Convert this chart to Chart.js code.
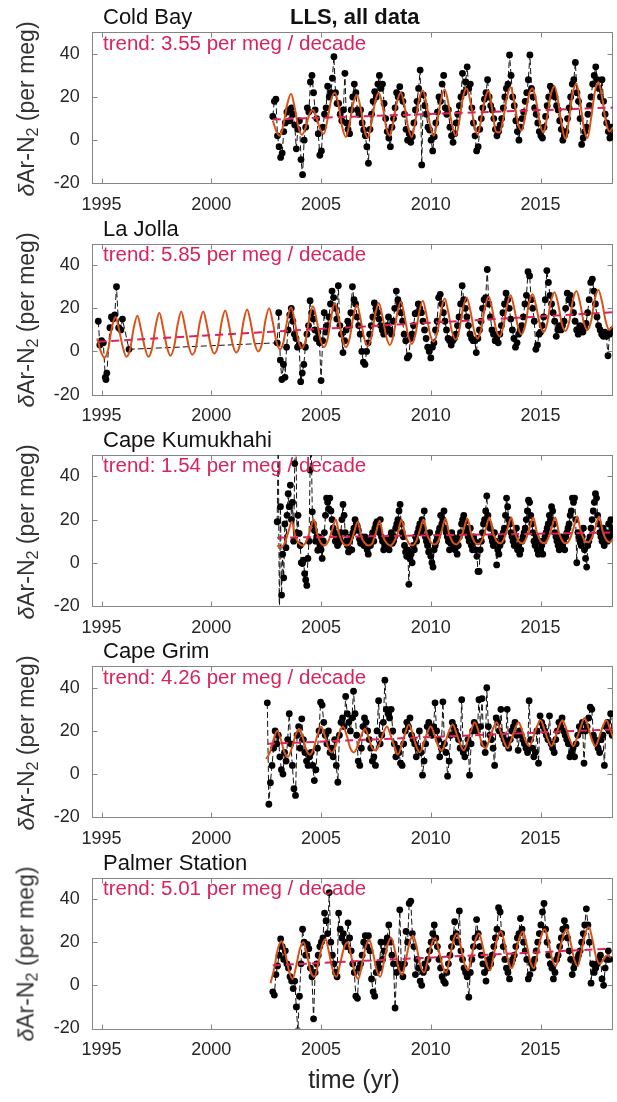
<!DOCTYPE html>
<html lang="en">
<head>
<meta charset="UTF-8">
<title>LLS, all data</title>
<script src="https://cdn.jsdelivr.net/npm/chart.js"></script>
<style>
  body { margin: 0; background: #fff; }
  #wrap { position: relative; width: 617px; height: 1102px; overflow: hidden; font-family: "Liberation Sans", Arial, sans-serif; }
  #wrap canvas { position: absolute; left: 0; top: 0; }
  .lbl { position: absolute; white-space: nowrap; line-height: 1; }
  .ylab { position: absolute; white-space: nowrap; line-height: 1; color: #333; font-size: 23px; transform: translate(-50%, -50%) rotate(-90deg); }
  .ylab sub { font-size: 70%; vertical-align: -0.25em; line-height: 0; }
</style>
</head>
<body>
<div id="wrap"></div>
<script>
const stations = ['Cold Bay', 'La Jolla', 'Cape Kumukhahi', 'Cape Grim', 'Palmer Station'];
const trendRates = ['3.55', '5.85', '1.54', '4.26', '5.01'];
const xTicks = [1995, 2000, 2005, 2010, 2015];
const yTicks = [-20, 0, 20, 40];

// Cold Bay
const coldBayObsStart = 2002.8;
const coldBayObs = [
  11, 18, 19, 2, -3, -8, -6, 4, 8, 13, 14, 9, 15, 12,
  7, -4, 5, 9, -9, -16, 0, 6, 15, 13, 27, 30, 22, 14,
  10, 3, -7, -5, 6, 12, 15, 25, 20, 22, 28.7, 38.7, 22, 17,
  17, 12, 9, 14, 31, 8, 5, 3, 14, 20, 26, 22, 14, 12,
  14, 8, 4.7, 2, -3, -10.7, 5, 12, 18, 22.5, 20, 26, 30, 24,
  26, 17, 10, 4, 1, -3, 6, 10, 15, 22, 20, 24.8, 21, 18,
  12, 5, 0, 3, -1, 1.6, 8, 14, 18, 24, 32.5, -11.5, 21, 16,
  12, 6, 4.7, 0, -5, 1.6, 8, 13, 20, 18, 26, 30, 15, 12,
  14, 6, 2, -1, 3, 8, 12, 16, 20, 31, 22, 27, 34, 24,
  26, 15, 8, 2, -5, -3, 5, 10, 15, 19, 22, 28, 20, 16,
  14, 10, 5, 2, 4, 7, 10, 15, 20, 24, 26, 39.5, 30, 20,
  16, 9, 4, 0, 6, 10, 13, 18, 22, 28, 39.5, 24, 20, 15,
  12, 8, 4, 2, 1, 6, 11, 16, 20, 25, 24, 22, 20, 16,
  14, 9, 5, 0, 2, 4, 10, 15, 20, 26, 28, 36, 22, 18,
  10, -2, 1, 4, 6, 12, 16, 20, 26, 30, 34, 28, 24, 20,
  28, 18, 12, 8, 4, 1, 6, 2
];
const coldBayFitStart = 2002.8;
const coldBayFit = [
  9, 4,
  2, 8, 17, 21.5, 15, 6,
  2.5, 6, 12, 14, 10, 5,
  3, 10, 19, 22, 16, 6,
  1.5, 8, 17, 21, 15, 5,
  1, 8, 18, 22, 16, 6,
  2, 9, 18, 22, 16, 6,
  1.5, 9, 19, 23, 17, 7,
  2, 9, 19, 23.5, 17, 7,
  2, 9, 20, 24, 18, 8,
  2.5, 10, 19, 23, 14, 4,
  3.5, 10, 20, 24.5, 18, 8,
  4.5, 11, 21, 24, 18, 8,
  3.5, 11, 21, 25, 18, 7,
  0.5, 10, 22, 26, 18, 6,
  1, 10, 22, 27, 20, 9,
  4, 6
];
const coldBayTrendYears = [2002.8, 2018.3];
const coldBayTrendVals = [9.6, 15.1];

// La Jolla
const laJollaEarlyYears = [1994.85, 1994.92, 1995.0, 1995.08, 1995.17, 1995.2, 1995.24, 1995.38, 1995.45, 1995.52, 1995.6, 1995.68, 1995.78, 1995.88, 1995.95, 1996.25];
const laJollaEarlyVals = [14, 3, 5, 4, -12, -13, -10, 11, 16, 15, 17, 30, 11, 10, 15, 1];
const laJollaObsStart = 2003.0;
const laJollaObs = [
  4, 18, -4, -13, -6, -12, 2, 10, 17, 20, 14, 8, 6, 2,
  3, -14, -10, -6, 2, 8, 12, 23.5, 18, 15, 10, 6, 9, 4,
  -13.5, 5, 18, 9, 12, 16, 22, 28, 25, 20, 15, 30.5, 12, 8,
  -0.5, 5, 10, 14, 12, 18, 30, 24, 22, 16, 12, 8, 0, -5,
  -6, 0, 4, 8, 12, 16, 22.5, 20, 18, 15, 12, 10, 8, 9,
  12, 16, 10, 8, 14, 20, 28, 24, 22, 18, 14, 8, 5, -3,
  -2, 6, 8, 12, 17.5, 18, 22, 20, 18, 14, 10, 6, 2, 0,
  -3, 2, 4, 10, 14, 25, 26.5, 22, 18, 14, 10, 6, 5, 3,
  5, 6, 8, 12, 16, 22, 30.5, 24, 20, 16, 12, 8, 6, 5,
  5, -0.5, 6, 10, 14, 20, 24, 25, 38, 22, 16, 10, 8, 5,
  6, 4, 8, 12, 18, 22, 27, 24, 20, 15, 10, 6, 2, 4,
  8, 10, 12, 16, 22, 26, 37, 35, 24, 20, 14, 1, 3, 8,
  9, 12, 16, 24, 37.5, 32, 26, 22, 18, 14, 7, 10, 12, 10,
  12, 14, 20, 27, 24, 26, 22, 18, 14, 10, 8, 12, 10, 9,
  11, 13, 18, 24, 32, 33.5, 28, 22, 16, 12, 10, 8, 7, 9,
  7, -2, 8, 9, 10
];
const laJollaFitStart = 1994.8;
const laJollaFit = [
  6, 0,
  -3, 1, 11, 16, 10, 2,
  -2.5, 1, 11, 16.5, 10, 2,
  -2.5, 1.5, 12, 18, 11, 2.5,
  -2, 2, 12.5, 18.5, 11.5, 2.5,
  -1.5, 2, 13, 18.5, 12, 3,
  -1, 2.5, 13.5, 19, 12.5, 3.5,
  -0.5, 3, 14, 19.5, 13, 4,
  0, 3.5, 14.5, 20, 13.5, 4.5,
  1, 5, 15, 20.5, 14, 5,
  1.5, 5.5, 15.5, 21, 14.5, 5.5,
  2, 6, 16.5, 22.5, 15.5, 6,
  2, 6, 16, 21.5, 15, 6,
  2.5, 7, 17, 22.5, 16, 7,
  3, 7.5, 17.5, 23, 16.5, 7.5,
  3.5, 8, 18, 23.5, 17, 8,
  4.5, 9, 19, 24.5, 18, 9,
  5.5, 10, 20, 25, 19, 10,
  6, 10.5, 20.5, 25.5, 19.5, 10.5,
  7, 11.5, 21, 26, 20, 11.5,
  8, 12, 22, 26.5, 21, 12.5,
  9, 13, 23, 27.5, 22, 13,
  9.5, 13.5, 23.5, 28, 22.5, 13.5,
  10, 14, 24, 28.5, 23, 14,
  10, 12
];
const laJollaTrendYears = [1994.85, 2018.3];
const laJollaTrendVals = [4.5, 18.2];

// Cape Kumukhahi
const kumukhahiObsStart = 2003.0;
const kumukhahiObs = [
  19, 60, -26, 26, -15, 4, -7, 18, 7, 22, 32, 26, 36, 20, 28, 10, 46, 62, 14, 22,
  13.6, 8, 0, -0.4, 1.2, -5, -8, -10.5, 2, 10, 43, 58, 23.6, 18, 15, 10, 12, 5.8, 12, 8,
  6, 2, 10, 14, 22, 30, 28, 25, 30, 24, 20, 16, 14, 10, 12, 8, 9, 11, 14, 20,
  27, 22, 14, 10, 8, 5, 10, 12, 6, 14, 16, 20, 18, 17, 15, 11, 9, 12, 10, 8,
  12, 9, 6, 4, 10, 8, 12, 14, 10, 16, 18, 19, 16, 14, 20, 12, 10, 6, 8, 11,
  8, 10, 6, 12, 14, 9, 10, 12, 16, 18, 20, 24, 27, 18, 14, 12, 8, 5, 3, 6,
  -10, 2, 4, 0, 8, 6, 12, 10, 14, 16, 18, 14, 20, 16, 24, 12, 10, 8, 5, 14,
  3, 0, -2, 6, 8, 10, 12, 14, 16, 22, 18, 20, 24, 16, 14, 12, 10, 6, 9, 14,
  12, 8, 6, 10, 4, 8, 12, 14, 18, 20, 22, 19, 16, 14, 12, 10, 16, 8, 6, 12,
  10, 6, 3, -4, -4, 6, 10, 14, 18, 20, 24, 31, 22, 18, 16, 12, 10, 8, 14, 10,
  -1, 6, 4, 8, 12, 10, 14, 16, 22, 30, 26, 20, 18, 14, 12, 10, 8, 12, 16, 6,
  8, 4, 6, 10, 12, 14, 16, 20, 24, 29, 28, 22, 18, 14, 10, 8, 12, 6, 4, 10,
  6, 8, 4, 10, 12, 14, 16, 18, 22, 20, 26, 24, 18, 14, 12, 10, 8, 6, 10, 12,
  8, 10, 6, 12, 14, 16, 18, 22, 24, 30, 28, 30, 20, 0, 14, 12, 10, 8, 12, 16,
  6, 2, -2, 8, 10, 12, 16, 20, 24, 28, 32, 30, 22, 18, 14, 12, 10, 16, 8, 12,
  14, 10, 18, 12, 20, 16, 14
];
const kumukhahiFitStart = 2003.0;
const kumukhahiFit = [
  8, 7, 9, 14, 19, 12,
  9, 8, 10, 15, 20, 13,
  9, 8, 10, 15, 20, 13,
  9, 8, 9, 14, 19, 12,
  9, 8, 9, 14, 19.5, 12,
  9, 8, 10, 14, 20, 13,
  9, 8, 10, 15, 20, 13,
  9.5, 8.5, 10, 15, 20.5, 13.5,
  9.5, 8.5, 10.5, 15.5, 20.5, 13.5,
  9.5, 8.5, 10.5, 15.5, 21, 14,
  10, 9, 11, 16, 21, 14,
  10, 9, 11, 16, 21, 14,
  10, 9, 11, 16, 21, 14,
  10, 9, 11, 16, 21.5, 14.5,
  10.5, 9.5, 11.5, 16.5, 21.5, 14.5,
  10.5, 9.5, 11.5
];
const kumukhahiTrendYears = [2003.0, 2018.3];
const kumukhahiTrendVals = [11.6, 14.0];

// Cape Grim
const capeGrimObsStart = 2002.55;
const capeGrimObs = [
  33, -14, -4, 4, 12, 20, 14, 18, 8, 2, 0, 10, 6, 16,
  28, 14, 4, -6.8, -9.9, 18, 22, 12, 25.6, 16, 10, 6, 4, 8,
  10, 4, -3, 2, 12, 20, 33.3, 32, 24, 18, 14, 20, 10, 12,
  8, 16, 4, -3.8, 18, 24, 26, 22, 36, 28, 24, 20, 26, 38.4,
  28, 18, 6, 4, 12, 22, 26, 24, 20, 16, 12, 6, 8, 4,
  20, 34, 14, 18, 24, 43.5, 30, 28, 26, 30, 20, 14, 8, 12,
  10, 5, 4, 14, 20, 24, 22, 26, 18, 16, 14, 8, 12, 20,
  10, -0.5, 6, 14, 22, 24, 20, 18, 22, 33, 20, 16, 8, 12,
  33.5, 14, 10, -1, 6, 18, 24, 22, 20, 18, 16, 12, 34.5, 10,
  8, 12, 16, -0.5, 14, 20, 24, 22, 20, 34.5, 22, 35, 14, 10,
  40, 22, 18, 16, 12, 4, 26, 24, 20, 30, 18, 16, 14, 30,
  12, 16, 20, 22, 24, 18, 11, 20, 18, 16, 14, 12, 10, 34,
  16, 12, 8, 10, 20, 5, 27, 24, 22, 20, 18, 16, 27, 14,
  12, 10, 16, 20, 24, 22, 26, 20, 18, 16, 14, 8, 10, 12,
  8, 14, 18, 22, 20, 24, 5, 20, 22, 26, 31, 30, 18, 16,
  14, 12, 10, 16, 18, 4, 22, 24, 20, 28, 18
];
const capeGrimFitStart = 2002.5;
const capeGrimFit = [
  7, 10, 16, 20, 16, 10,
  8, 12, 18, 21, 17, 11,
  9, 12, 18, 22, 18, 12,
  10, 13, 19, 22, 18, 12,
  10, 13, 18, 21, 17, 12,
  11, 14, 19, 22, 18, 13,
  9, 13, 19, 23, 19, 13,
  10, 14, 19, 22, 18, 13,
  11, 15, 20, 23, 19, 14,
  11, 15, 20, 24, 20, 14,
  12, 16, 21, 24, 20, 15,
  12, 16, 21, 24, 20, 15,
  13, 17, 22, 25, 21, 16,
  13, 17, 22, 25, 21, 16,
  13, 17, 22, 26, 22, 16,
  13, 17, 22, 25, 21, 16
];
const capeGrimTrendYears = [2002.55, 2018.3];
const capeGrimTrendVals = [14.0, 20.7];

// Palmer Station
const palmerObsStart = 2002.8;
const palmerObs = [
  -3, -4.5, 5, 9, 14, 21.5, 18, 12, 16, 10, 8, 4, 2, -1.5,
  2, -10, -21, -5, 10, 26, 20, 14, 19, 17, 8, 4, -15.5, 6,
  10, 14, 18, 20, 22, 33.5, 30, 24, 43, 20, 14, 10, 6, 4,
  33.5, 26, 22, 24, 20, 18, 29, 22, 16, 10, 6, -5, -6, 8,
  10, 14, 20, 23, 18, 23, 16, 3, -3, -5, 6, 10, 8, 20,
  12, 16, 20, 22, 28, 20, 14, 10, -10.5, 6, 10, 35, 8, 4,
  10, 25, 20, 38, 39, 24, 18, 5, 12, 8, 2, 0, 6, 10,
  8, 12, 16, 20, 24, 28, 22, 18, 12, 8, 4, 2, 1, 6,
  10, 14, 18, 22, 29.5, 24, 20, 34.5, 16, 12, 8, 6, 4, -5.5,
  6, 12, 18, 22, 30.5, 24, 18, 14, 10, 6, 2, 8, 12, 10,
  14, 18, 22, 26, 36, 34, 24, 18, 12, 8, 6, 3, 10, 12,
  14, 18, 22, 24, 31, 26, 20, 16, 12, 3, 5, 10, 8, 12,
  16, 20, 24, 28, 34, 38, 26, 20, 14, 10, 8, 3, 6, 12,
  14, 18, 22, 26, 30, 27, 22, 16, 12, 5, 8, 10, 12, 14,
  16, 20, 24, 28, 35.5, 28, 20, 1, 10, 6, 8, 10, 12, 14,
  3, 0, 8, 12, 16, 12
];
const palmerFitStart = 2002.7;
const palmerFit = [
  1, 8, 17, 20.5, 15, 7,
  3, 9, 17, 20, 14, 6,
  4, 10, 18, 21.5, 15, 7,
  4, 10, 17, 20, 14, 6,
  3, 10, 18, 21, 15, 7,
  4, 11, 19, 22, 16, 8,
  5, 12, 20, 23, 17, 9,
  6, 12, 19, 22, 16, 9,
  6, 13, 21, 24, 18, 10,
  7, 14, 21, 24, 18, 10,
  7, 14, 22, 25, 19, 11,
  8, 15, 22, 25, 19, 11,
  8, 15, 23, 26, 20, 12,
  9, 16, 23, 26, 20, 12,
  9, 16, 24, 27, 21, 13,
  10, 12, 14, 13
];
const palmerTrendYears = [2002.8, 2018.2];
const palmerTrendVals = [9.3, 17.0];

function seq(start, step, vals) {
  return vals.map((v, i) => ({ x: start + i * step, y: v }));
}
function pairs(xs, ys) {
  return xs.map((x, i) => ({ x: x, y: ys[i] }));
}

const panels = [
  { obs: seq(coldBayObsStart, 1 / 14, coldBayObs), fit: seq(coldBayFitStart, 1 / 6, coldBayFit), trend: pairs(coldBayTrendYears, coldBayTrendVals) },
  { obs: pairs(laJollaEarlyYears, laJollaEarlyVals).concat(seq(laJollaObsStart, 1 / 14, laJollaObs)), fit: seq(laJollaFitStart, 1 / 6, laJollaFit), trend: pairs(laJollaTrendYears, laJollaTrendVals) },
  { obs: seq(kumukhahiObsStart, 1 / 20, kumukhahiObs), fit: seq(kumukhahiFitStart, 1 / 6, kumukhahiFit), trend: pairs(kumukhahiTrendYears, kumukhahiTrendVals) },
  { obs: seq(capeGrimObsStart, 1 / 14, capeGrimObs), fit: seq(capeGrimFitStart, 1 / 6, capeGrimFit), trend: pairs(capeGrimTrendYears, capeGrimTrendVals) },
  { obs: seq(palmerObsStart, 1 / 14, palmerObs), fit: seq(palmerFitStart, 1 / 6, palmerFit), trend: pairs(palmerTrendYears, palmerTrendVals) }
];

const W = 617, H = 1102;
const PITCH = 211.3, TOP0 = 32.3, PLOT_H = 151, AXIS_W = 91.7, XAXIS_H = 30;
const RED = '#d9245b', ORANGE = '#d95319', TXT = '#262626';
const font = { family: '"Liberation Sans", Arial, sans-serif', size: 18 };

const boxPlugin = {
  id: 'box',
  beforeDatasetsDraw(chart) {
    const { ctx, chartArea: a, scales: { x, y } } = chart;
    const l = Math.round(a.left) + 0.5, r = Math.round(a.right) - 0.5;
    const t = Math.round(a.top) + 0.5, b = Math.round(a.bottom) + 0.5;
    ctx.save();
    ctx.strokeStyle = '#858585';
    ctx.lineWidth = 1;
    ctx.strokeRect(l, t, r - l, b - t);
    ctx.beginPath();
    xTicks.forEach(v => {
      const px = Math.round(x.getPixelForValue(v)) + 0.5;
      ctx.moveTo(px, b); ctx.lineTo(px, b - 5);
      ctx.moveTo(px, t); ctx.lineTo(px, t + 5);
    });
    yTicks.forEach(v => {
      const py = Math.round(y.getPixelForValue(v)) + 0.5;
      ctx.moveTo(l, py); ctx.lineTo(l + 5, py);
      ctx.moveTo(r, py); ctx.lineTo(r - 5, py);
    });
    ctx.stroke();
    ctx.restore();
  }
};

const wrap = document.getElementById('wrap');

panels.forEach((p, k) => {
  const canvas = document.createElement('canvas');
  canvas.width = W; canvas.height = H;
  canvas.style.width = W + 'px'; canvas.style.height = H + 'px';
  wrap.appendChild(canvas);
  const top = TOP0 + PITCH * k;
  const padBottom = H - (top + PLOT_H) - XAXIS_H;

  new Chart(canvas, {
    type: 'line',
    data: {
      datasets: [
        { data: p.trend, borderColor: RED, borderWidth: 2, borderDash: [8, 5], pointRadius: 0, order: 0 },
        { data: p.fit, borderColor: ORANGE, borderWidth: 2, pointRadius: 0, cubicInterpolationMode: 'monotone', order: 1 },
        { data: p.obs, borderColor: '#111', borderWidth: 1, borderDash: [6, 3], pointRadius: 3.4, pointBorderWidth: 0, pointBackgroundColor: '#000', tension: 0, order: 2 }
      ]
    },
    options: {
      responsive: false,
      animation: false,
      events: [],
      layout: { padding: { left: 0, right: 1, top: top, bottom: padBottom } },
      plugins: { legend: { display: false }, tooltip: { enabled: false } },
      scales: {
        x: {
          type: 'linear', min: 1994.55, max: 2018.3,
          afterBuildTicks: s => { s.ticks = xTicks.map(v => ({ value: v })); },
          afterFit: s => { s.height = XAXIS_H; },
          grid: { display: false, drawTicks: false },
          border: { display: false },
          ticks: { font: font, color: TXT, padding: 11, maxRotation: 0, autoSkip: false, callback: v => String(v) }
        },
        y: {
          min: -20, max: 50,
          afterBuildTicks: s => { s.ticks = yTicks.map(v => ({ value: v })); },
          afterFit: s => { s.width = AXIS_W; },
          grid: { display: false, drawTicks: false },
          border: { display: false },
          ticks: { font: font, color: TXT, padding: 12, autoSkip: false, callback: v => String(v) }
        }
      }
    },
    plugins: [boxPlugin]
  });

  // panel texts
  const name = document.createElement('div');
  name.className = 'lbl';
  name.style.cssText = `left:103px;top:${(25 + PITCH * k - 18.6).toFixed(1)}px;font-size:22px;color:#111;`;
  name.textContent = stations[k];
  wrap.appendChild(name);

  const tr = document.createElement('div');
  tr.className = 'lbl';
  tr.style.cssText = `left:103px;top:${(50 + PITCH * k - 17.4).toFixed(1)}px;font-size:20.5px;color:${RED};`;
  tr.textContent = 'trend: ' + trendRates[k] + ' per meg / decade';
  wrap.appendChild(tr);

  const yl = document.createElement('div');
  yl.className = 'ylab';
  yl.style.left = '26px';
  yl.style.top = (109 + PITCH * k) + 'px';
  yl.innerHTML = '<i>δ</i>Ar-N<sub>2</sub> (per meg)';
  wrap.appendChild(yl);
});

const head = document.createElement('div');
head.className = 'lbl';
head.style.cssText = 'left:290px;top:5.9px;font-size:22px;font-weight:bold;color:#111;';
head.textContent = 'LLS, all data';
wrap.appendChild(head);

const xt = document.createElement('div');
xt.className = 'lbl';
xt.style.cssText = 'left:354px;top:1067px;font-size:25px;color:#262626;transform:translateX(-50%);';
xt.textContent = 'time (yr)';
wrap.appendChild(xt);
</script>
</body>
</html>
